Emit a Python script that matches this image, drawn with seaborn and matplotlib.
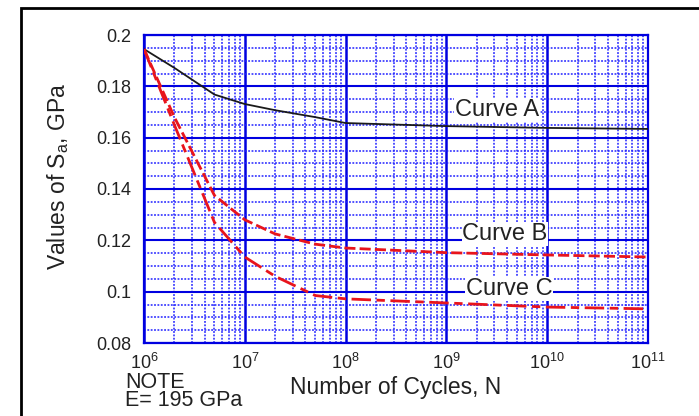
import matplotlib
matplotlib.use("Agg")
import matplotlib.pyplot as plt
import matplotlib.ticker as mticker
from matplotlib.patches import Rectangle
import numpy as np
import pandas as pd
import seaborn as sns

# ---- data ----
cycles = [1e6, 2e6, 5e6, 1e7, 2e7, 5e7, 1e8, 1e9, 1e10, 1e11]
curve_a = [0.1945, 0.1872, 0.1768, 0.1731, 0.1707, 0.1680, 0.1657, 0.1645, 0.1638, 0.1634]
curve_b = [0.1945, 0.1680, 0.1375, 0.1280, 0.1225, 0.1185, 0.1170, 0.1152, 0.1143, 0.1135]
curve_c = [0.1945, 0.1650, 0.1270, 0.1135, 0.1060, 0.0985, 0.0972, 0.0956, 0.0940, 0.0933]
curve_names = ["Curve A", "Curve B", "Curve C"]
x_ticks = [1e6, 1e7, 1e8, 1e9, 1e10, 1e11]
y_ticks = [0.08, 0.10, 0.12, 0.14, 0.16, 0.18, 0.20]

sns.set_theme(style="white")
plt.rcParams["font.family"] = ["Liberation Sans", "DejaVu Sans"]
plt.rcParams["mathtext.default"] = "regular"

df = pd.DataFrame({
    "N": cycles * 3,
    "S": curve_a + curve_b + curve_c,
    "curve": [curve_names[0]] * len(cycles) + [curve_names[1]] * len(cycles) + [curve_names[2]] * len(cycles),
})

fig = plt.figure(figsize=(6.99, 4.16), dpi=100)
ax = fig.add_axes([144 / 699, 1 - 343 / 416, 504 / 699, 308 / 416])

blue = "#0000e0"
ax.set_xscale("log")
ax.set_xlim(1e6, 1e11)
ax.set_ylim(0.08, 0.2)

# grid
ax.set_axisbelow(True)
minor_x = [k * 10.0 ** e for e in range(6, 11) for k in range(2, 10)]
ax.xaxis.set_major_locator(mticker.FixedLocator(x_ticks))
ax.xaxis.set_minor_locator(mticker.FixedLocator(minor_x))
ax.yaxis.set_major_locator(mticker.FixedLocator(y_ticks))
ax.yaxis.set_minor_locator(mticker.MultipleLocator(0.005))
ax.grid(True, which="minor", color="#2020ff", lw=1.1, ls=(0, (1.2, 1.0)), zorder=0)
ax.grid(True, which="major", axis="x", color=blue, lw=1.8, ls="-", zorder=0)
ax.grid(True, which="major", axis="y", color=blue, lw=1.5, ls="-", zorder=0)

styles = {
    "Curve A": dict(color="#1a1a1a", lw=1.3, dashes=None),
    "Curve B": dict(color="#e8141c", lw=2.0, dashes=(4, 1.5)),
    "Curve C": dict(color="#e8141c", lw=2.0, dashes=(7, 2, 3, 2)),
}
for name in curve_names:
    sub = df[df["curve"] == name]
    st = styles[name]
    l = sns.lineplot(data=sub, x="N", y="S", ax=ax, color=st["color"], lw=st["lw"],
                     legend=False, zorder=3)
    if st["dashes"] is not None:
        l.lines[-1].set_dashes(st["dashes"])

# labels on curves
label_kw = dict(fontsize=17, color="#222222", ha="center", va="center", zorder=5,
                bbox=dict(facecolor="white", edgecolor="none", pad=0.5))
ax.text(10 ** 9.50, 0.1708, "Curve A", **label_kw)
ax.text(10 ** 9.58, 0.1225, "Curve B", **label_kw)
ax.text(10 ** 9.62, 0.1010, "Curve C", **label_kw)

for s in ax.spines.values():
    s.set_color(blue)
    s.set_linewidth(1.6)

ax.xaxis.set_major_formatter(mticker.FuncFormatter(lambda v, p: r"$10^{%d}$" % round(np.log10(v))))
ax.yaxis.set_major_formatter(mticker.FuncFormatter(lambda v, p: "%g" % round(v, 3)))
ax.xaxis.set_minor_formatter(mticker.NullFormatter())
ax.tick_params(axis="both", which="both", length=0, labelsize=13, colors="#222222")
ax.tick_params(axis="y", pad=9)
ax.tick_params(axis="x", pad=7)

ax.set_xlabel("Number of Cycles, N", fontsize=16.5, color="#222222")
ax.set_ylabel("Values of S$_a$, GPa", fontsize=16.5, color="#222222")
ax.xaxis.set_label_coords(0.5, -0.108)
ax.yaxis.set_label_coords(-0.145, 0.54)

fig.text(125 / 699, 1 - 382 / 416, "NOTE", fontsize=15.5, color="#222222", va="center", ha="left")
fig.text(125 / 699, 1 - 401 / 416, "E= 195 GPa", fontsize=15.5, color="#222222", va="center", ha="left")

# outer frame
fig.add_artist(Rectangle((21 / 699, -0.1), 1.2, 1.1 - 8 / 416, transform=fig.transFigure,
                         fill=False, edgecolor="black", lw=2, clip_on=False))

fig.savefig("out.png", dpi=100)
